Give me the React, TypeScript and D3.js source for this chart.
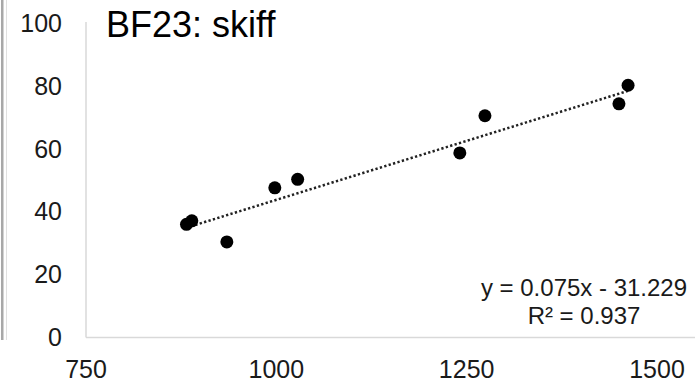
import React from "react";
import * as d3 from "d3";

const xValues = [882, 889, 935, 998, 1028, 1241, 1274, 1450, 1462];
const yValues = [36.0, 37.1, 30.4, 47.6, 50.3, 58.7, 70.5, 74.3, 80.2];
const xTicks = [750, 1000, 1250, 1500];
const yTicks = [0, 20, 40, 60, 80, 100];
const slope = 0.075;
const intercept = -31.229;
const title = "BF23: skiff";
const eqLabel = "y = 0.075x - 31.229";
const r2Label = "R\u00b2 = 0.937";

const W = 697;
const H = 385;
const font = "'Liberation Sans', Arial, sans-serif";

export default function App() {
  const x = d3.scaleLinear().domain([750, 1500]).range([86, 657]);
  const y = d3.scaleLinear().domain([0, 100]).range([337.5, 23]);
  const xMin = d3.min(xValues) as number;
  const xMax = d3.max(xValues) as number;
  const trend = d3.line<number>()
    .x((d) => x(d))
    .y((d) => y(slope * d + intercept));

  return (
    <svg
      width={W}
      height={H}
      style={{ position: "absolute", left: 0, top: 0, background: "#fff" }}
      fontFamily={font}
    >
      <rect x={0} y={0} width={W} height={H} fill="#fff" />
      <rect x={1} y={0} width={2.5} height={340} fill="#a8a8a8" />
      <line x1={6.5} x2={6.5} y1={0} y2={340} stroke="#e0e0e0" strokeWidth={1} />
      {/* axes */}
      <line x1={x(750)} x2={x(750)} y1={y(100) - 1} y2={y(0)} stroke="#d9d9d9" strokeWidth={1.5} />
      <line x1={x(750)} x2={695} y1={y(0)} y2={y(0)} stroke="#d9d9d9" strokeWidth={1.5} />
      {yTicks.map((t) => (
        <text key={"y" + t} x={62} y={y(t)} dy="0.35em" textAnchor="end" fontSize={25} fill="#1a1a1a">
          {t}
        </text>
      ))}
      {xTicks.map((t) => (
        <text key={"x" + t} x={x(t)} y={378} textAnchor="middle" fontSize={25} fill="#1a1a1a">
          {t}
        </text>
      ))}
      <path
        d={trend([xMin, xMax]) || ""}
        fill="none"
        stroke="#222"
        strokeWidth={2.5}
        strokeDasharray="2.3 2.3"
      />
      {xValues.map((v, i) => (
        <circle key={i} cx={x(v)} cy={y(yValues[i])} r={6.5} fill="#000" />
      ))}
      <text x={106} y={37} fontSize={36} fill="#000">{title}</text>
      <text x={584} y={296} textAnchor="middle" fontSize={24} fill="#1a1a1a">{eqLabel}</text>
      <text x={584} y={324} textAnchor="middle" fontSize={24} fill="#1a1a1a">{r2Label}</text>
    </svg>
  );
}
